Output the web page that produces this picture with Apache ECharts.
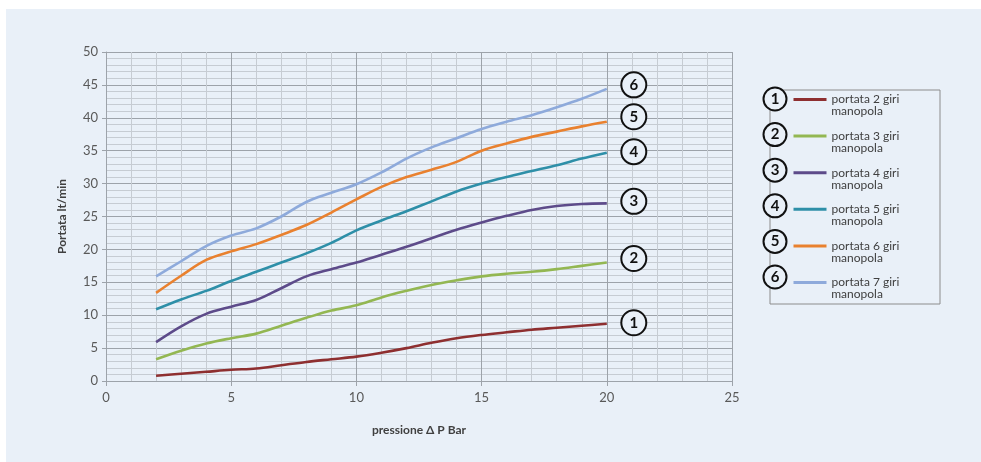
<!DOCTYPE html>
<html>
<head>
<meta charset="utf-8">
<script src="https://cdn.jsdelivr.net/npm/echarts@6/dist/echarts.min.js"></script>
<style>
html,body{margin:0;padding:0;background:#ffffff;width:981px;height:462px;overflow:hidden;}
#chart{position:absolute;left:6px;top:9px;width:975px;height:453px;background:#e9f0f8;}
</style>
</head>
<body>
<div id="chart"></div>
<script>
// ---- data ----
const pressure = [2,3,4,5,6,7,8,9,10,11,12,13,14,15,16,17,18,19,20];
const seriesNames = ['portata 2 giri manopola','portata 3 giri manopola','portata 4 giri manopola','portata 5 giri manopola','portata 6 giri manopola','portata 7 giri manopola'];
const circleNumbers = ['1','2','3','4','5','6'];
const giri2 = [0.8,1.1,1.4,1.7,1.9,2.4,2.9,3.3,3.7,4.3,5.0,5.8,6.5,7.0,7.4,7.8,8.1,8.4,8.7];
const giri3 = [3.3,4.6,5.7,6.5,7.2,8.4,9.6,10.7,11.5,12.7,13.7,14.6,15.3,15.9,16.3,16.6,17.0,17.5,18.0];
const giri4 = [5.9,8.3,10.2,11.3,12.3,14.1,15.9,17.0,18.0,19.2,20.4,21.7,23.0,24.1,25.1,26.0,26.6,26.9,27.0];
const giri5 = [10.9,12.4,13.7,15.2,16.6,18.0,19.4,21.0,22.9,24.4,25.8,27.3,28.8,30.0,31.0,31.9,32.8,33.8,34.7];
const giri6 = [13.4,16.0,18.4,19.7,20.8,22.2,23.7,25.6,27.6,29.5,31.0,32.1,33.3,35.0,36.1,37.1,37.9,38.7,39.4];
const giri7 = [15.9,18.2,20.5,22.1,23.2,25.0,27.2,28.6,29.9,31.7,33.8,35.5,36.9,38.3,39.4,40.4,41.6,42.9,44.4];
const yTicks = {min:0, max:50, interval:5};
const xTicks = {min:0, max:25, interval:5};

// ---- styles ----
const allValues = [giri2,giri3,giri4,giri5,giri6,giri7];
const colors = ['#8e2f30','#93b752','#5d4b8a','#2e8fa8','#e9812f','#8eaadb'];
const circleOffsets = [[27,-1],[27,-4],[27,-2],[27,-1],[27,-5],[27,-4]];
const BG = '#e9f0f8';
const FONT = 'Lato, "Open Sans", sans-serif';
const ROW_PITCH = 35.6;

const chart = echarts.init(document.getElementById('chart'), null, {renderer:'canvas'});

const series = allValues.map((vals, i) => ({
  name: seriesNames[i],
  type: 'line',
  data: pressure.map((p, k) => [p, vals[k]]),
  smooth: 0.35,
  showSymbol: false,
  symbol: 'none',
  lineStyle: {color: colors[i], width: 2.6},
  itemStyle: {color: colors[i]},
  z: 3,
  markPoint: {
    symbol: 'circle',
    symbolSize: 25,
    symbolOffset: circleOffsets[i],
    itemStyle: {color: BG, borderColor: '#111', borderWidth: 2},
    label: {show: true, position: 'inside', formatter: circleNumbers[i], color: '#111', fontSize: 15, fontWeight: 'bold', fontFamily: FONT},
    data: [{coord: [pressure[pressure.length-1], vals[vals.length-1]]}],
    silent: true,
    animation: false
  }
}));

// legend frame and circles (decoration)
const legendGraphics = [{
  type: 'rect',
  shape: {x: 764, y: 81, width: 170, height: 214},
  style: {fill: 'none', stroke: '#8c8c8c', lineWidth: 1},
  z: 1
}];
circleNumbers.forEach((n, i) => {
  const cy = 90 + ROW_PITCH * i;
  legendGraphics.push({
    type: 'circle',
    shape: {cx: 769, cy: cy, r: 11.5},
    style: {fill: BG, stroke: '#111', lineWidth: 2},
    z: 10
  });
  legendGraphics.push({
    type: 'text',
    x: 769, y: cy,
    style: {text: n, fill: '#111', font: 'bold 15px ' + FONT, align: 'center', verticalAlign: 'middle'},
    z: 11
  });
});

const legendText = {fontSize: 12, lineHeight: 11, color: '#404040', fontFamily: FONT};

const option = {
  backgroundColor: 'transparent',
  animation: false,
  textStyle: {fontFamily: FONT},
  grid: {left: 100, right: 249, top: 43, bottom: 81},
  xAxis: {
    type: 'value',
    min: xTicks.min, max: xTicks.max, interval: xTicks.interval,
    name: 'pressione \u0394 P Bar',
    nameLocation: 'middle',
    nameGap: 43,
    nameTextStyle: {fontSize: 12, fontWeight: 'bold', color: '#404040', fontFamily: FONT},
    axisLine: {show: true, lineStyle: {color: '#9da3aa', width: 1}},
    axisTick: {show: true, length: 5, lineStyle: {color: '#9da3aa'}},
    axisLabel: {fontSize: 13, color: '#595959', margin: 10, fontFamily: FONT},
    splitLine: {show: true, lineStyle: {color: '#9da3aa', width: 1}},
    minorTick: {show: false, splitNumber: 5},
    minorSplitLine: {show: true, lineStyle: {color: '#c6ccd3', width: 1}}
  },
  yAxis: {
    type: 'value',
    min: yTicks.min, max: yTicks.max, interval: yTicks.interval,
    name: 'Portata lt/min',
    nameLocation: 'middle',
    nameGap: 38,
    nameRotate: 90,
    nameTextStyle: {fontSize: 12, fontWeight: 'bold', color: '#404040', fontFamily: FONT},
    axisLine: {show: true, lineStyle: {color: '#9da3aa', width: 1}},
    axisTick: {show: true, length: 4, lineStyle: {color: '#9da3aa'}},
    axisLabel: {fontSize: 13, color: '#595959', margin: 8, fontFamily: FONT},
    splitLine: {show: true, lineStyle: {color: '#9da3aa', width: 1}},
    minorTick: {show: false, splitNumber: 5},
    minorSplitLine: {show: true, lineStyle: {color: '#c6ccd3', width: 1}}
  },
  legend: [
    {
      orient: 'vertical',
      left: 786,
      top: 84.5,
      padding: 0,
      itemGap: ROW_PITCH - 11,
      itemWidth: 33,
      itemHeight: 8,
      selectedMode: false,
      lineStyle: {width: 3},
      itemStyle: {opacity: 0},
      data: seriesNames,
      formatter: function (name) { return name.split(' manopola')[0]; },
      textStyle: legendText
    },
    {
      orient: 'vertical',
      left: 819,
      top: 96.5,
      padding: 0,
      itemGap: ROW_PITCH - 11,
      itemWidth: 0,
      itemHeight: 3,
      selectedMode: false,
      lineStyle: {opacity: 0},
      itemStyle: {opacity: 0},
      data: seriesNames,
      formatter: function () { return 'manopola'; },
      textStyle: legendText
    }
  ],
  graphic: legendGraphics,
  series: series
};

chart.setOption(option);
</script>
</body>
</html>
